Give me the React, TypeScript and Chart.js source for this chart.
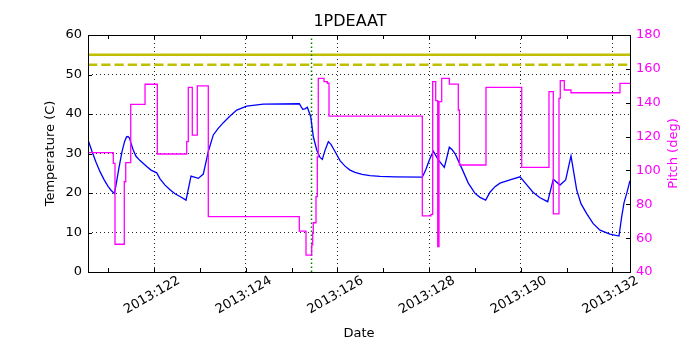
import React, { useEffect, useRef } from 'react';
import { Chart, registerables } from 'chart.js';

Chart.register(...registerables);

// ---- data ----
const YEAR = 2013;
const xMin = 120.56;
const xMax = 132.382;
const majorDays = [122, 124, 126, 128, 130, 132];
const minorDays = [121, 123, 125, 127, 129, 131];
const tempRange = [0, 60];
const pitchRange = [40, 180];
const limitSolid = 55;
const limitDashed = 52.5;
const markerDay = 125.435;
const pitchTitle = 'Pitch (deg)';

const tempDays = [
  120.560, 120.648, 120.735, 120.822, 120.910, 120.997, 121.062, 121.134,
  121.171, 121.237, 121.302, 121.357, 121.400, 121.433, 121.466, 121.498,
  121.542, 121.607, 121.695, 121.841, 121.935, 122.059, 122.131, 122.240,
  122.349, 122.458, 122.567, 122.698, 122.807, 122.966, 123.075, 123.184,
  123.293, 123.396, 123.511, 123.658, 123.804, 124.022, 124.384, 125.169,
  125.243, 125.293, 125.344, 125.418, 125.474, 125.549, 125.621, 125.671,
  125.730, 125.802, 125.860, 125.948, 126.057, 126.166, 126.275, 126.384,
  126.537, 126.711, 126.929, 127.256, 127.852, 127.932, 128.009, 128.092,
  128.201, 128.332, 128.379, 128.441, 128.499, 128.565, 128.711, 128.855,
  129.001, 129.110, 129.234, 129.328, 129.437, 129.546, 129.764, 129.983,
  130.113, 130.266, 130.419, 130.587, 130.709, 130.855, 130.979, 131.095,
  131.219, 131.313, 131.437, 131.575, 131.727, 131.945, 132.142, 132.201,
  132.251, 132.310, 132.382,
];
const tempValues = [
  33.5, 30.5, 27.8, 25.4, 23.4, 21.7, 20.7, 19.9,
  22.0, 26.5, 30.5, 33.0, 34.2, 34.3, 33.9, 32.6,
  31.0, 29.3, 28.2, 26.7, 25.8, 25.1, 23.6, 22.0,
  20.8, 19.8, 19.1, 18.2, 24.3, 23.7, 24.8, 30.5,
  34.7, 36.3, 37.8, 39.5, 41.0, 42.0, 42.5, 42.6,
  41.2, 41.3, 41.7, 39.3, 34.3, 30.9, 29.0, 28.5,
  30.8, 33.0, 32.3, 30.5, 28.2, 26.8, 25.8, 25.2,
  24.7, 24.4, 24.2, 24.1, 24.0, 26.0, 28.5, 30.6,
  28.4, 26.5, 28.6, 31.6, 31.0, 30.0, 26.3, 22.5,
  19.9, 18.9, 18.2, 20.2, 21.6, 22.5, 23.3, 24.1,
  22.3, 20.2, 18.8, 17.8, 23.5, 22.0, 23.3, 29.4,
  20.8, 17.3, 14.8, 12.3, 10.6, 9.6, 9.1, 14.0,
  17.5, 19.9, 23.1,
];

const pitchDays = [
  120.560, 121.112, 121.149, 121.352, 121.383, 121.492, 121.804, 122.072,
  122.713, 122.748, 122.835, 122.944, 123.184, 125.169, 125.315, 125.439,
  125.461, 125.474, 125.533, 125.562, 125.583, 125.708, 125.780, 125.817,
  127.852, 128.041, 128.078, 128.144, 128.188, 128.216, 128.275, 128.441,
  128.637, 128.663, 129.241, 130.020, 130.615, 130.709, 130.833, 130.861,
  130.949, 131.095, 132.163, 132.382,
];
const pitchValues = [
  110.5, 104.2, 56.4, 93.3, 104.6, 139.0, 150.9, 109.7,
  117.0, 149.1, 120.9, 149.9, 72.7, 64.2, 50.0, 56.0,
  62.8, 69.1, 84.5, 108.0, 154.4, 152.4, 151.5, 132.1,
  73.1, 74.0, 152.4, 141.2, 55.0, 140.6, 154.4, 151.0,
  135.7, 103.2, 149.1, 101.8, 146.5, 74.3, 142.6, 153.0,
  147.5, 145.9, 151.4, 151.4,
];

const FONT = 'DejaVu Sans';
const MAGENTA = '#ff00ff';

const frameTicks = {
  id: 'frameTicks',
  afterDatasetsDraw(chart: any) {
    const { ctx, chartArea, scales } = chart;
    const { left, right, top, bottom } = chartArea;
    const L = 4;
    ctx.save();
    ctx.setLineDash([]);
    ctx.strokeStyle = '#000';
    ctx.lineWidth = 1;
    ctx.beginPath();
    for (const t of scales.x.ticks) {
      const px = Math.round(scales.x.getPixelForValue(t.value)) + 0.5;
      ctx.moveTo(px, bottom);
      ctx.lineTo(px, bottom - L);
      ctx.moveTo(px, top);
      ctx.lineTo(px, top + L);
    }
    for (const t of scales.y.ticks) {
      const py = Math.round(scales.y.getPixelForValue(t.value)) + 0.5;
      ctx.moveTo(left, py);
      ctx.lineTo(left + L, py);
    }
    for (const t of scales.y1.ticks) {
      const py = Math.round(scales.y1.getPixelForValue(t.value)) + 0.5;
      ctx.moveTo(right, py);
      ctx.lineTo(right - L, py);
    }
    ctx.stroke();
    ctx.strokeRect(Math.round(left) + 0.5, Math.round(top) + 0.5, Math.round(right - left), Math.round(bottom - top));
    ctx.restore();
  },
  afterDraw(chart: any) {
    const { ctx, chartArea } = chart;
    ctx.save();
    ctx.translate(673.5, (chartArea.top + chartArea.bottom) / 2);
    ctx.rotate(-Math.PI / 2);
    ctx.font = `13px "${FONT}"`;
    ctx.fillStyle = MAGENTA;
    ctx.textAlign = 'center';
    ctx.textBaseline = 'middle';
    ctx.fillText(pitchTitle, 0, 0);
    ctx.restore();
  },
};

export default function App() {
  const ref = useRef<HTMLCanvasElement | null>(null);

  useEffect(() => {
    document.body.style.margin = '0';
    const canvas = ref.current;
    if (!canvas) return;

    const allDays = [...majorDays, ...minorDays].sort((a, b) => a - b);
    const dotted = 'rgba(0,0,0,0.85)';

    const chart = new Chart(canvas, {
      type: 'line',
      data: {
        datasets: [
          {
            label: 'Pitch',
            data: pitchDays.map((d, i) => ({ x: d, y: pitchValues[i] })),
            yAxisID: 'y1',
            borderColor: MAGENTA,
            borderWidth: 1.3,
            pointRadius: 0,
            stepped: 'before',
            order: 0,
          },
          {
            label: 'Temperature',
            data: tempDays.map((d, i) => ({ x: d, y: tempValues[i] })),
            yAxisID: 'y',
            borderColor: '#0000ff',
            borderWidth: 1.3,
            pointRadius: 0,
            tension: 0,
            order: 1,
          },
          {
            label: 'marker',
            data: [{ x: markerDay, y: tempRange[0] }, { x: markerDay, y: tempRange[1] }],
            yAxisID: 'y',
            borderColor: '#008000',
            borderWidth: 1.5,
            borderDash: [1.5, 2.5],
            pointRadius: 0,
            order: 2,
          },
          {
            label: 'limit',
            data: [{ x: xMin, y: limitSolid }, { x: xMax, y: limitSolid }],
            yAxisID: 'y',
            borderColor: '#bfbf00',
            borderWidth: 2.5,
            pointRadius: 0,
            order: 3,
          },
          {
            label: 'limit2',
            data: [{ x: xMin, y: limitDashed }, { x: xMax, y: limitDashed }],
            yAxisID: 'y',
            borderColor: '#bfbf00',
            borderWidth: 2.5,
            borderDash: [9.25, 4],
            pointRadius: 0,
            order: 4,
          },
        ],
      },
      options: {
        responsive: false,
        animation: false,
        devicePixelRatio: 1,
        layout: { padding: 0 },
        plugins: {
          legend: { display: false },
          tooltip: { enabled: false },
          title: {
            display: true,
            text: '1PDEAAT',
            color: '#000',
            font: { family: FONT, size: 16, weight: 'normal' },
            padding: { top: 12, bottom: 3.8 },
          },
        },
        scales: {
          x: {
            type: 'linear',
            min: xMin,
            max: xMax,
            afterFit: (s: any) => { s.height = 78; },
            afterBuildTicks: (s: any) => { s.ticks = allDays.map((v) => ({ value: v })); },
            ticks: {
              autoSkip: false,
              includeBounds: false,
              minRotation: 30,
              maxRotation: 30,
              padding: 1,
              labelOffset: 25,
              color: '#000',
              font: { family: FONT, size: 13 },
              callback: (v: any) => (majorDays.includes(Number(v)) ? `${YEAR}:${v}` : ''),
            },
            grid: {
              drawTicks: false,
              lineWidth: 1,
              color: (c: any) => (c.tick && majorDays.includes(c.tick.value) ? dotted : 'rgba(0,0,0,0)'),
              borderDash: [1, 3],
            },
            border: { display: false, dash: [1, 3] },
            title: {
              display: true,
              text: 'Date',
              color: '#000',
              font: { family: FONT, size: 13 },
              padding: { top: 0, bottom: 9 },
            },
          },
          y: {
            position: 'left',
            min: tempRange[0],
            max: tempRange[1],
            afterFit: (s: any) => { s.width = 88; },
            ticks: {
              stepSize: 10,
              padding: 6,
              color: '#000',
              font: { family: FONT, size: 13 },
            },
            grid: {
              drawTicks: false,
              lineWidth: 1,
              color: dotted,
              borderDash: [1, 3],
            },
            border: { display: false, dash: [1, 3] },
            title: {
              display: true,
              text: 'Temperature (C)',
              color: '#000',
              font: { family: FONT, size: 13 },
              padding: { top: 43, bottom: 0 },
            },
          },
          y1: {
            position: 'right',
            min: pitchRange[0],
            max: pitchRange[1],
            afterFit: (s: any) => { s.width = 70; },
            ticks: {
              stepSize: 20,
              padding: 6,
              color: MAGENTA,
              font: { family: FONT, size: 13 },
            },
            grid: { drawTicks: false, drawOnChartArea: false },
            border: { display: false },
            title: { display: false },
          },
        },
      },
      plugins: [frameTicks],
    } as any);

    return () => chart.destroy();
  }, []);

  return (
    <div style={{ width: 700, height: 350 }}>
      <canvas ref={ref} width={700} height={350} />
    </div>
  );
}
